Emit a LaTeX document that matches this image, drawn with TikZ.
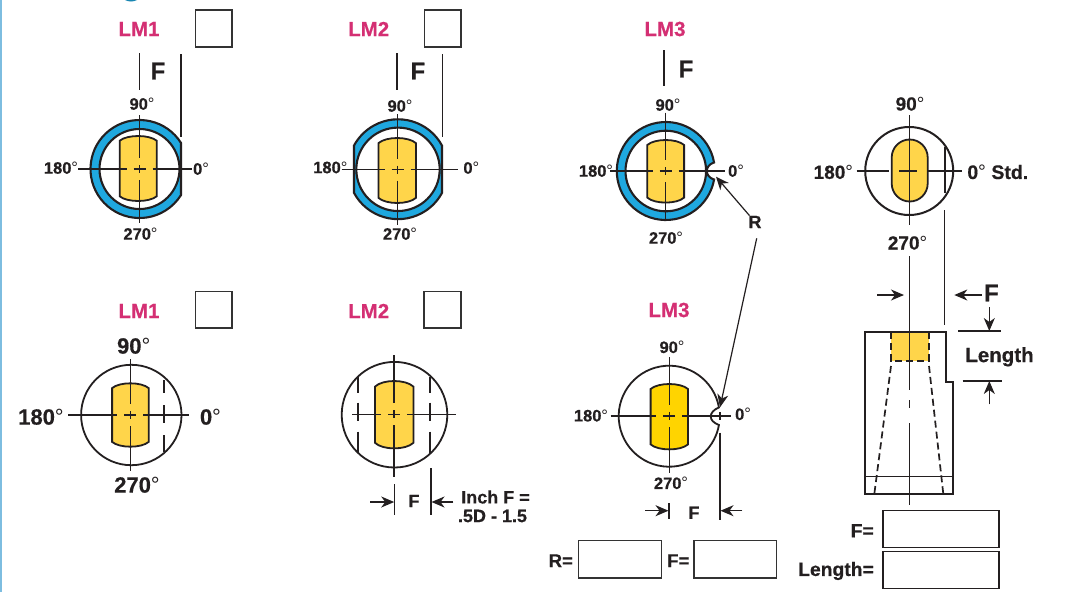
\documentclass[tikz,border=0pt]{standalone}
\usepackage{fontspec}
\setmainfont[BoldFeatures={FakeBold=0.5}]{Liberation Sans}
\usetikzlibrary{arrows.meta}
\definecolor{ink}{HTML}{231F20}
\definecolor{ringblue}{HTML}{1FA8DF}
\definecolor{slotyellow}{HTML}{FFD54A}
\definecolor{slotgold}{HTML}{FFD400}
\definecolor{lmpink}{HTML}{D42F73}
\definecolor{edgeblue}{HTML}{7DBDE0}
\definecolor{boxgrey}{HTML}{333333}
\newcommand{\dg}{{\mdseries °}}
\newcommand{\fsz}[1]{\fontsize{#1}{#1}\selectfont\bfseries}
\tikzset{
  txt/.style={inner sep=0pt,text=ink,font=\fsz{#1}},
  lm/.style={inner sep=0pt,text=lmpink,font=\fsz{20.5}},
  ring/.style={draw=ink,line width=2.1pt,fill=ringblue},
  bore/.style={draw=ink,line width=2.1pt,fill=white},
  disc/.style={draw=ink,line width=1.8pt,fill=white},
  slot/.style={draw=ink,line width=1.8pt,fill=slotyellow},
  axis/.style={draw=ink,line width=1.15pt},
  ext/.style={draw=ink,line width=1.25pt},
  flat/.style={draw=ink,line width=2.1pt},
  dim/.style={draw=ink,line width=1.2pt,-{Stealth[length=13pt,width=11pt,inset=4pt]}},
  tickbox/.style={draw=boxgrey,line width=1.2pt,fill=white},
  block/.style={draw=ink,line width=2.2pt},
  hidden/.style={draw=ink,line width=1.7pt,dash pattern=on 7pt off 4pt},
}
% barrel: cx cy halfwidth halfheight sag
\newcommand{\barrel}[6][slot]{\path[#1] ({#2-#4},{#3+#5-#6}) .. controls ({#2-#4*0.6},{#3+#5+#6*0.33}) and ({#2+#4*0.6},{#3+#5+#6*0.33}) .. ({#2+#4},{#3+#5-#6}) -- ({#2+#4},{#3-#5+#6}) .. controls ({#2+#4*0.6},{#3-#5-#6*0.33}) and ({#2-#4*0.6},{#3-#5-#6*0.33}) .. ({#2-#4},{#3-#5+#6}) -- cycle;}
% broken centre lines: cx cy left right top bottom
\newcommand{\axes}[6]{\draw[axis] (#3,#2)--({#1-13},#2) ({#1-6},#2)--({#1+6},#2) ({#1+13},#2)--(#4,#2) (#1,#5)--(#1,{#2+11}) (#1,{#2+4})--(#1,{#2-4}) (#1,{#2-11})--(#1,#6);}
\begin{document}
\begin{tikzpicture}[x=1pt,y=1pt]
\useasboundingbox (0,-592) rectangle (1067,0);
\fill[white] (0,-592) rectangle (1067,0);
\fill[edgeblue] (0,-592) rectangle (1.6,0);
\fill[ringblue!80!black] (125,0) .. controls (129,-2) and (133,-2) .. (137,0) -- cycle;

% ---------- top LM1
\node[lm] (lmA) at (139,-29) {LM1};
\node[tickbox,minimum width=36.6pt,minimum height=37pt,inner sep=0pt,anchor=north west] (boxA) at (194.7,-9.3) {};
\node[txt=24] (fA) at (158,-71) {F};
\draw[ext] (139.5,-53)--(139.5,-90) (181,-54)--(181,-137);
\path[ring] (139.5,-169) +(32.1:49) arc[start angle=32.1,end angle=327.9,radius=49] -- cycle;
\path[bore] (139.5,-169) circle[radius=40];
\barrel{138.2}{-168.5}{18.5}{32.5}{4.7}
\axes{139.5}{-169}{78}{192}{-115}{-223}
\node[txt=16.5] (a90) at (142,-104) {90\dg};
\node[txt=16.5] (a180) at (61,-168) {180\dg};
\node[txt=16.5] (a0) at (201,-169) {0\dg};
\node[txt=16.5] (a270) at (140.5,-234) {270\dg};

% ---------- top LM2
\node[lm] (lmB) at (368.7,-29) {LM2};
\node[tickbox,minimum width=36.6pt,minimum height=37pt,inner sep=0pt,anchor=north west] (boxB) at (423.7,-9.3) {};
\node[txt=24] (fB) at (417.8,-71) {F};
\draw[ext] (397,-53)--(397,-90) (442.7,-54)--(442.7,-137);
\path[ring] (398,-169.3) +(28.4:50) arc[start angle=28.4,end angle=151.6,radius=50] -- ++(0,-47.4) arc[start angle=208.4,end angle=331.6,radius=50] -- cycle;
\path[bore] (398,-169.3) circle[radius=41.7];
\barrel{397.2}{-170.5}{18.8}{32.5}{5.2}
\axes{397.7}{-169.5}{341.7}{458}{-114}{-225}
\node[txt=16.5] (b90) at (400,-106) {90\dg};
\node[txt=16.5] (b180) at (330.3,-167.5) {180\dg};
\node[txt=16.5] (b0) at (471.3,-168) {0\dg};
\node[txt=16.5] (b270) at (400,-234) {270\dg};

% ---------- top LM3
\node[lm] (lmC) at (665,-29) {LM3};
\node[txt=24] (fC) at (686,-69) {F};
\draw[ext] (664,-50)--(664,-86);
\path[ring] (665.8,-171) +(10:49) arc[start angle=10,end angle=350,radius=49] .. controls (704.5,-176) and (704.5,-166) .. cycle;
\path[bore] (665.8,-171) circle[radius=40.3];
\path[fill=white,draw=ink,line width=1.8pt] (714,-162.5) .. controls (704.5,-166) and (704.5,-176) .. (714,-179.5);
\barrel{665.7}{-171.3}{18.4}{31.3}{5}
\axes{665.5}{-171}{610}{725}{-112.7}{-220.7}
\node[txt=16.5] (c90) at (668,-105) {90\dg};
\node[txt=16.5] (c180) at (596,-171) {180\dg};
\node[txt=16.5] (c0) at (736,-171) {0\dg};
\node[txt=16.5] (c270) at (666,-238) {270\dg};
\node[txt=18] (rlab) at (755,-222) {R};
\coordinate (notchTop) at (716,-176.7);
\coordinate (notchLow) at (720,-407.3);
\coordinate (rTail) at (756.7,-238.3);
\draw[dim] (rlab) -- (notchTop);
\draw[dim] (rTail) -- (notchLow);

% ---------- bottom LM1
\node[lm] (lmD) at (139,-311) {LM1};
\node[tickbox,minimum width=36.6pt,minimum height=36.6pt,inner sep=0pt,anchor=north west] (boxD) at (194.7,-290.7) {};
\path[disc] (131.3,-415) circle[radius=50.2];
\barrel{130.4}{-415}{18.3}{31.7}{4.8}
\axes{130.3}{-415}{68}{189}{-359.3}{-470.7}
\draw[flat] (164.3,-380)--(164.3,-393) (164.3,-405)--(164.3,-423) (164.3,-435)--(164.3,-451.7);
\node[txt=22] (d90) at (133.7,-346) {90\dg};
\node[txt=22] (d180) at (41,-417) {180\dg};
\node[txt=22] (d0) at (210.5,-417) {0\dg};
\node[txt=22] (d270) at (137,-485) {270\dg};

% ---------- bottom LM2
\node[lm] (lmE) at (368.7,-311) {LM2};
\node[tickbox,minimum width=37pt,minimum height=36.6pt,inner sep=0pt,anchor=north west] (boxE) at (423.3,-290.7) {};
\path[disc] (394.5,-414.7) circle[radius=52.8];
\barrel{394.2}{-414.7}{19.2}{33.7}{5.6}
\axes{394}{-414.3}{352.3}{456}{-355}{-476.7}
\draw[flat] (358.3,-376.7)--(358.3,-393.3) (358.3,-402.7)--(358.3,-420.7) (358.3,-431.7)--(358.3,-453)
            (430,-376.7)--(430,-393.3) (430,-402.7)--(430,-420.7) (430,-431.7)--(430,-453);
\draw[ext] (394.7,-484.3)--(394.7,-515) (431,-468.3)--(431,-515);
\node[txt=18] (fE) at (414,-501) {F};
\coordinate (eTipL) at (394.2,-502);
\coordinate (eTipR) at (431.5,-502);
\coordinate (eTailL) at (370,-502);
\coordinate (eTailR) at (453.3,-502);
\draw[dim] (eTailL) -- (eTipL);
\draw[dim] (eTailR) -- (eTipR);
\node[txt=18] (inchA) at (495.5,-497) {Inch F =};
\node[txt=18] (inchB) at (492.5,-516) {.5D - 1.5};

% ---------- bottom LM3
\node[lm] (lmF) at (669,-310) {LM3};
\path[disc] (669.2,-416.2) +(10:50.5) arc[start angle=10,end angle=350,radius=50.5] .. controls (708,-421) and (708,-412) .. cycle;
\barrel[slot,fill=slotgold]{669.3}{-416.7}{18.7}{32.7}{5}
\axes{669.3}{-416}{610.7}{730.7}{-357.3}{-473.3}
\draw[ext] (720,-412)--(720,-420) (720,-432.7)--(720,-520) (669,-503.3)--(669,-519.3);
\node[txt=16.5] (f90) at (672,-347.3) {90\dg};
\node[txt=16.5] (f180) at (591,-415.7) {180\dg};
\node[txt=16.5] (f0) at (743,-414.3) {0\dg};
\node[txt=16.5] (f270) at (671,-483.3) {270\dg};
\node[txt=18] (fF) at (694,-512.7) {F};
\coordinate (fTipL) at (668.5,-510.7);
\coordinate (fTipR) at (720.5,-510.7);
\coordinate (fTailL) at (645.3,-510.7);
\coordinate (fTailR) at (742.3,-510.7);
\draw[dim] (fTailL) -- (fTipL);
\draw[dim] (fTailR) -- (fTipR);
\node[tickbox,minimum width=82.7pt,minimum height=37.3pt,inner sep=0pt,anchor=north west] (boxR) at (578,-540) {};
\node[tickbox,minimum width=82.4pt,minimum height=37.3pt,inner sep=0pt,anchor=north west] (boxF) at (693.3,-540) {};
\node[txt=18.5] (rEq) at (560.8,-560.7) {R=};
\node[txt=18.5] (fEq) at (678.3,-560.7) {F=};

% ---------- right column: end view
\path[disc,line width=2pt] (909.2,-171) circle[radius=44];
\path[slot] (891.7,-157.5) arc[start angle=180,end angle=0,radius=18] -- (927.7,-183.5) arc[start angle=360,end angle=180,radius=18] -- cycle;
\draw[axis] (856.7,-171)--(889,-171) (899,-171)--(917.3,-171) (928.3,-171)--(961.7,-171) (909.5,-115)--(909.5,-225);
\draw[flat] (944.7,-146.7)--(944.7,-193.3);
\node[txt=19] (g90) at (910,-104) {90\dg};
\node[txt=19] (g180) at (833.3,-172.3) {180\dg};
\node[txt=19.5] (g0) at (997.8,-172) {0\dg\ Std.};
\node[txt=19] (g270) at (907.5,-243) {270\dg};
\fill[slotyellow] (891,-332) rectangle (929,-360.7);
\draw[ext] (909.5,-256)--(909.5,-390) (909.5,-400)--(909.5,-408) (909.5,-423)--(909.5,-505)
           (944.7,-210)--(944.7,-325);
\node[txt=24] (fG) at (991.3,-293) {F};
\coordinate (gTipL) at (904,-295);
\coordinate (gTailL) at (877.3,-295);
\coordinate (gTipR) at (954.3,-295);
\coordinate (gTailR) at (981.7,-295);
\draw[dim] (gTailL) -- (gTipL);
\draw[dim] (gTailR) -- (gTipR);

% ---------- right column: side view
\draw[block] (865,-332) -- (945.7,-332) -- (945.7,-381.7) -- (952.7,-381.7) -- (952.7,-494.3) -- (865,-494.3) -- cycle;
\draw[ext] (865,-476.7)--(952.7,-476.7);
\draw[hidden] (891,-332)--(891,-360.7)--(929,-360.7)--(929,-332);
\draw[hidden] (891,-366)--(874.3,-494) (929,-366)--(943.3,-494);
\draw[ext] (958.3,-331)--(1000.7,-331) (962.7,-381)--(1002.3,-381);
\coordinate (lenTopTail) at (989.3,-307.3);
\coordinate (lenTopTip) at (989.3,-331);
\coordinate (lenLowTail) at (989.3,-404.3);
\coordinate (lenLowTip) at (989.3,-381);
\draw[dim] (lenTopTail) -- (lenTopTip);
\draw[dim] (lenLowTail) -- (lenLowTip);
\node[txt=20.5] (lenLab) at (999.5,-356.8) {Length};
\node[tickbox,draw=ink,minimum width=116pt,minimum height=36.7pt,inner sep=0pt,anchor=north west] (boxG) at (882.3,-510) {};
\node[tickbox,draw=ink,minimum width=116pt,minimum height=37pt,inner sep=0pt,anchor=north west] (boxH) at (882.3,-550.7) {};
\node[txt=19.3] (fEqG) at (862.2,-530.7) {F=};
\node[txt=19.3] (lenEq) at (836,-571) {Length=};
\end{tikzpicture}
\end{document}
